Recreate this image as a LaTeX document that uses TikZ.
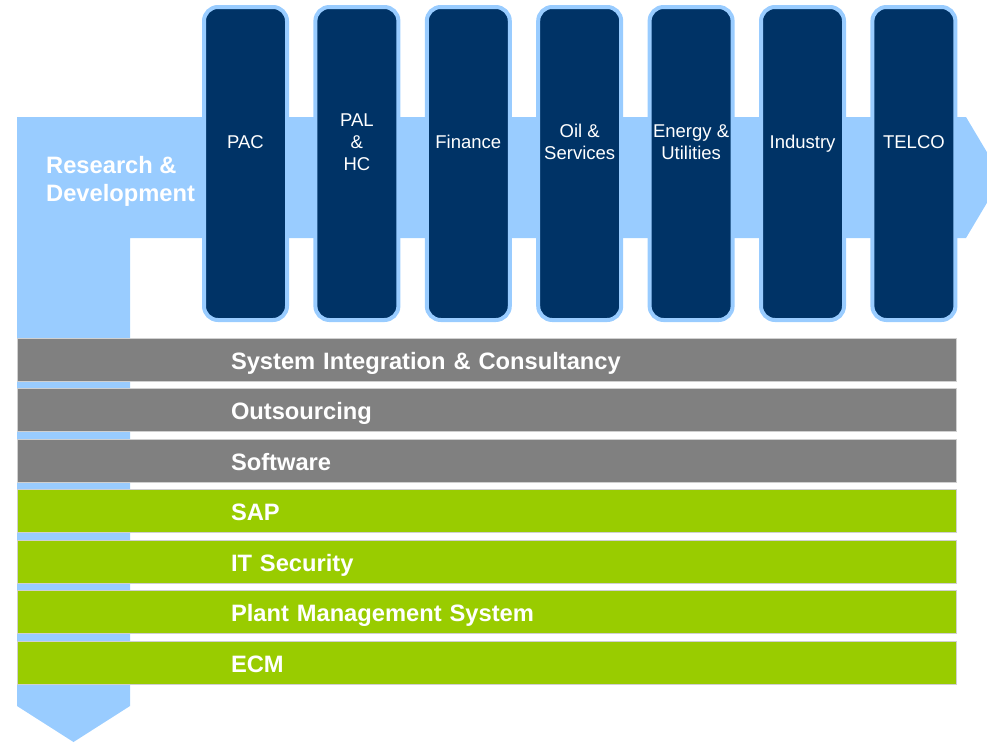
\documentclass[tikz,border=0pt]{standalone}
\usepackage{fontspec}
\setmainfont{Liberation Sans}
\definecolor{navy}{HTML}{003366}
\definecolor{skyband}{HTML}{99CCFF}
\definecolor{slate}{HTML}{808080}
\definecolor{lime}{HTML}{99CC00}
\definecolor{barline}{HTML}{D0D0D0}
\begin{document}
\begin{tikzpicture}[x=1pt, y=-1pt,
    column/.style={draw=skyband, line width=4pt, fill=navy, rounded corners=14pt,
      minimum width=83pt, minimum height=313pt, inner sep=0pt},
    colname/.style={text=white, align=center, font=\fontsize{18.5}{22}\selectfont},
    band/.style={draw=barline, line width=0.6pt, minimum height=43pt, inner xsep=214pt,
      text width=511pt, text height=24pt, text depth=5pt, align=left, text=white,
      font=\bfseries\fontsize{23.7}{28}\selectfont}]
    \useasboundingbox (0, 0) rectangle (987, 742);
    \clip (0, 0) rectangle (987, 742);
    % the bent arrow behind everything
    \path[fill=skyband] (17, 117) -- (966, 117) -- (1002, 177.5) -- (966, 238) -- (130, 238)
      -- (130, 706) -- (73.5, 742) -- (17, 706) -- cycle;
    \node[anchor=west, inner sep=0pt, text=white, align=left, font=\bfseries\fontsize{23.7}{28}\selectfont]
      (rnd) at (46, 181) {Research \&\\Development};
    % sector columns
    \foreach \name [count=\i from 0] in {PAC, {PAL\\\&\\HC}, Finance, {Oil \&\\Services},
        {Energy \&\\Utilities}, {\raisebox{0pt}[\height][0pt]{Industry}}, TELCO}
      \node[column, label={[colname, yshift=21.5pt]center:\name}] (col\i) at (245.5+111.4*\i, 163.5) {};
    % service lines
    \foreach \txt/\shade [count=\i from 0] in {System Integration \& Consultancy/slate,
        Outsourcing/slate, Software/slate, SAP/lime, IT Security/lime,
        Plant Management System/lime, ECM/lime}
      \node[band, fill=\shade] (bar\i) at (486.5, 359.5+50.5*\i) {\txt};
  \end{tikzpicture}
\end{document}
